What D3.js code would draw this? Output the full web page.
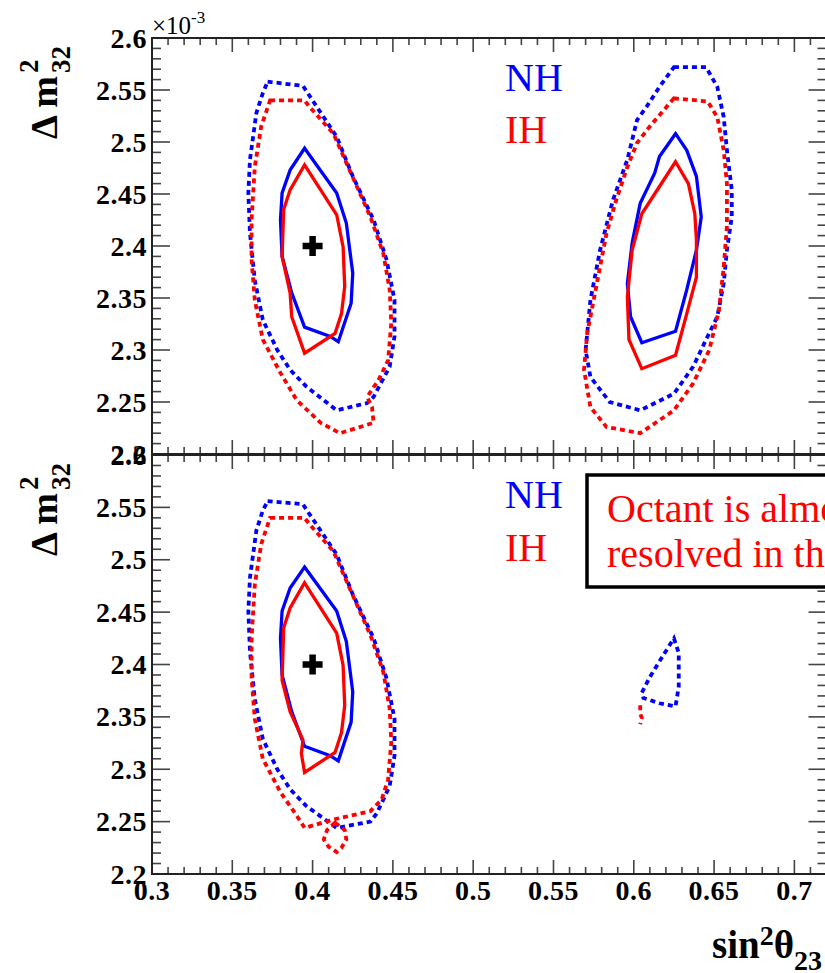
<!DOCTYPE html>
<html>
<head>
<meta charset="utf-8">
<script src="https://cdn.jsdelivr.net/npm/d3@7"></script>
<style>
  html, body { margin: 0; padding: 0; background: #fff; }
  svg { display: block; }
</style>
</head>
<body>
<svg id="chart" width="825" height="973"></svg>
<script>
// Axis ticks (sin^2 theta_23 and Delta m^2_32 in units of 1e-3 eV^2)
const sinTicks = [0.3, 0.35, 0.4, 0.45, 0.5, 0.55, 0.6, 0.65, 0.7];
const dmTicks = [2.2, 2.25, 2.3, 2.35, 2.4, 2.45, 2.5, 2.55, 2.6];
const bestFit = [0.4, 2.4];
const legendLabels = ["NH", "IH"];
const noteLines = ["Octant is almost", "resolved in this case"];

// Upper panel: contours for both octants
const topNH90 = [[0.372,2.558],[0.394,2.554],[0.397,2.547],[0.415,2.505],[0.425,2.467],[0.438,2.425],[0.446,2.387],[0.451,2.348],[0.451,2.313],[0.448,2.284],[0.438,2.255],[0.434,2.249],[0.415,2.242],[0.396,2.265],[0.386,2.281],[0.378,2.300],[0.369,2.329],[0.364,2.367],[0.361,2.4125],[0.360,2.451],[0.361,2.483],[0.365,2.528],[0.369,2.547]];
const topIH90 = [[0.3735,2.540],[0.395,2.540],[0.398,2.534],[0.413,2.508],[0.423,2.473],[0.436,2.428],[0.444,2.393],[0.448,2.358],[0.449,2.326],[0.447,2.290],[0.441,2.271],[0.434,2.255],[0.437,2.245],[0.438,2.230],[0.417,2.220],[0.405,2.230],[0.390,2.252],[0.380,2.278],[0.369,2.310],[0.364,2.348],[0.362,2.387],[0.362,2.425],[0.364,2.476],[0.368,2.515]];
const topNH68 = [[0.395,2.494],[0.415,2.451],[0.421,2.422],[0.425,2.374],[0.424,2.345],[0.416,2.308],[0.411,2.313],[0.395,2.322],[0.387,2.355],[0.381,2.390],[0.380,2.425],[0.381,2.451],[0.386,2.473]];
const topIH68 = [[0.395,2.478],[0.415,2.430],[0.419,2.399],[0.420,2.361],[0.418,2.335],[0.414,2.316],[0.395,2.297],[0.387,2.332],[0.386,2.355],[0.381,2.390],[0.382,2.435],[0.386,2.454]];
const topNH90b = [[0.625,2.572],[0.645,2.572],[0.652,2.553],[0.656,2.524],[0.658,2.492],[0.661,2.454],[0.661,2.428],[0.658,2.396],[0.656,2.364],[0.652,2.332],[0.645,2.310],[0.637,2.284],[0.625,2.258],[0.604,2.242],[0.585,2.250],[0.573,2.274],[0.570,2.300],[0.573,2.348],[0.579,2.396],[0.587,2.444],[0.596,2.483],[0.602,2.521],[0.608,2.534],[0.616,2.553]];
const topIH90b = [[0.625,2.542],[0.646,2.539],[0.652,2.524],[0.656,2.492],[0.658,2.460],[0.658,2.419],[0.656,2.380],[0.653,2.338],[0.647,2.300],[0.637,2.268],[0.625,2.242],[0.604,2.220],[0.583,2.226],[0.573,2.245],[0.569,2.281],[0.571,2.316],[0.577,2.364],[0.583,2.412],[0.589,2.444],[0.596,2.476],[0.602,2.499],[0.610,2.515]];
const topNH68b = [[0.626,2.508],[0.633,2.492],[0.639,2.467],[0.642,2.428],[0.639,2.396],[0.633,2.358],[0.626,2.318],[0.605,2.307],[0.598,2.332],[0.596,2.364],[0.599,2.403],[0.604,2.441],[0.613,2.470],[0.616,2.486]];
const topIH68b = [[0.626,2.481],[0.634,2.460],[0.638,2.431],[0.639,2.406],[0.639,2.370],[0.633,2.335],[0.626,2.295],[0.605,2.282],[0.597,2.310],[0.596,2.351],[0.599,2.396],[0.605,2.431]];

// Lower panel: the wrong octant is nearly excluded
const botNH90 = [[0.372,2.556],[0.394,2.553],[0.397,2.546],[0.415,2.505],[0.425,2.467],[0.438,2.425],[0.446,2.387],[0.451,2.348],[0.451,2.313],[0.448,2.284],[0.440,2.258],[0.436,2.250],[0.415,2.244],[0.396,2.265],[0.386,2.281],[0.378,2.300],[0.369,2.329],[0.364,2.367],[0.361,2.4125],[0.360,2.451],[0.361,2.483],[0.365,2.528],[0.369,2.547]];
const botIH90 = [[0.3735,2.540],[0.395,2.540],[0.398,2.534],[0.413,2.508],[0.423,2.473],[0.436,2.428],[0.444,2.393],[0.448,2.358],[0.449,2.326],[0.447,2.290],[0.443,2.271],[0.436,2.260],[0.413,2.252],[0.395,2.244],[0.390,2.256],[0.380,2.278],[0.369,2.310],[0.364,2.348],[0.362,2.387],[0.362,2.425],[0.364,2.476],[0.368,2.515]];
const botIH90loop = [[0.414,2.249],[0.420,2.242],[0.421,2.233],[0.418,2.225],[0.415,2.221],[0.410,2.226],[0.407,2.233],[0.409,2.242]];
const botNH68 = [[0.395,2.493],[0.415,2.451],[0.421,2.422],[0.425,2.374],[0.424,2.345],[0.416,2.308],[0.411,2.313],[0.395,2.322],[0.387,2.355],[0.381,2.390],[0.380,2.425],[0.381,2.451],[0.386,2.473]];
const botIH68 = [[0.395,2.478],[0.415,2.430],[0.419,2.399],[0.420,2.361],[0.418,2.335],[0.414,2.316],[0.395,2.297],[0.393,2.315],[0.394,2.328],[0.386,2.355],[0.381,2.385],[0.382,2.435],[0.386,2.454]];
const botNH90b = [[0.625,2.425],[0.628,2.411],[0.628,2.379],[0.626,2.360],[0.616,2.363],[0.606,2.368],[0.605,2.373],[0.610,2.388],[0.618,2.408]];
const botIH90b = [[0.604,2.361],[0.604,2.353],[0.605,2.349],[0.604,2.343]];

const svg = d3.select("#chart");
const serif = "'Liberation Serif', 'Times New Roman', serif";
const BLUE = "#0000ff", RED = "#ff0000";

const x = d3.scaleLinear().domain([0.3, 0.72]).range([152, 826.5]);

const panels = [
  {
    y: d3.scaleLinear().domain([2.2, 2.6]).range([454, 38]),
    contours: [
      {d: topNH90, c: BLUE, dash: true}, {d: topIH90, c: RED, dash: true},
      {d: topNH68, c: BLUE}, {d: topIH68, c: RED},
      {d: topNH90b, c: BLUE, dash: true}, {d: topIH90b, c: RED, dash: true},
      {d: topNH68b, c: BLUE}, {d: topIH68b, c: RED}
    ],
    legendY: [91, 143],
    xLabels: false,
    exponent: true
  },
  {
    y: d3.scaleLinear().domain([2.2, 2.6]).range([874, 455]),
    contours: [
      {d: botNH90, c: BLUE, dash: true}, {d: botIH90, c: RED, dash: true},
      {d: botIH90loop, c: RED, dash: true},
      {d: botNH68, c: BLUE}, {d: botIH68, c: RED},
      {d: botNH90b, c: BLUE, dash: true}, {d: botIH90b, c: RED, dash: true, open: true}
    ],
    legendY: [508, 561],
    xLabels: true,
    exponent: false
  }
];

const minorX = d3.range(30, 73).map(v => v / 100);
const minorY = d3.range(220, 261).map(v => v / 100);
const isMajor = (v, step) => Math.abs(v / step - Math.round(v / step)) < 1e-6;

function drawPanel(p) {
  const y = p.y;
  const g = svg.append("g");
  const [x0, x1] = x.range();
  const [yb, yt] = y.range();

  // contours
  const closed = d3.line().x(d => x(d[0])).y(d => y(d[1])).curve(d3.curveLinearClosed);
  const open = d3.line().x(d => x(d[0])).y(d => y(d[1]));
  p.contours.forEach(c => {
    g.append("path")
      .attr("d", (c.open ? open : closed)(c.d))
      .attr("fill", "none")
      .attr("stroke", c.c)
      .attr("stroke-width", c.dash ? 3.8 : 3.3)
      .attr("stroke-linejoin", "miter")
      .attr("stroke-dasharray", c.dash ? "5,4" : null);
  });

  // best-fit marker
  const cx = x(bestFit[0]), cy = y(bestFit[1]);
  g.append("path")
    .attr("d", `M${cx - 10},${cy}H${cx + 10}M${cx},${cy - 10}V${cy + 10}`)
    .attr("stroke", "#000").attr("stroke-width", 6.5);

  // ticks
  const tk = g.append("g").attr("stroke", "#444").attr("stroke-width", 1.6);
  minorX.forEach(v => {
    const px = x(v);
    const L = isMajor(v, 0.05) ? 14 : 7;
    tk.append("line").attr("x1", px).attr("x2", px).attr("y1", yb).attr("y2", yb - L);
    tk.append("line").attr("x1", px).attr("x2", px).attr("y1", yt).attr("y2", yt + L);
  });
  minorY.forEach(v => {
    const py = y(v);
    const L = isMajor(v, 0.05) ? 18 : 9;
    tk.append("line").attr("x1", x0).attr("x2", x0 + L).attr("y1", py).attr("y2", py);
    tk.append("line").attr("x1", x1).attr("x2", x1 - L).attr("y1", py).attr("y2", py);
  });

  // frame
  g.append("rect")
    .attr("x", x0).attr("y", yt).attr("width", x1 - x0).attr("height", yb - yt)
    .attr("fill", "none").attr("stroke", "#222").attr("stroke-width", 2);

  // y tick labels
  g.selectAll(".ylab").data(dmTicks).join("text")
    .attr("x", x0 - 5).attr("y", d => y(d))
    .attr("text-anchor", "end").attr("dominant-baseline", "central")
    .attr("font-family", serif).attr("font-weight", "bold").attr("font-size", 28)
    .attr("letter-spacing", 0.5)
    .attr("fill", "#000")
    .text(d => d3.format("~g")(d));

  if (p.xLabels) {
    g.selectAll(".xlab").data(sinTicks).join("text")
      .attr("x", d => x(d)).attr("y", yb + 26)
      .attr("text-anchor", "middle")
      .attr("font-family", serif).attr("font-weight", "bold").attr("font-size", 28)
      .attr("letter-spacing", 0.5)
      .attr("fill", "#000")
      .text(d => d3.format("~g")(d));
  }

  // y axis title, rotated
  const t = g.append("g").attr("transform", `translate(57,${yt + 101}) rotate(-90)`)
    .attr("font-family", serif).attr("font-weight", "bold").attr("fill", "#000");
  t.append("text").attr("x", 0).attr("y", 0).attr("font-size", 38).text("Δ m");
  t.append("text").attr("x", 66).attr("y", -19).attr("font-size", 27).text("2");
  t.append("text").attr("x", 66).attr("y", 13).attr("font-size", 27).text("32");

  // legend
  g.append("text").attr("x", 505).attr("y", p.legendY[0])
    .attr("font-family", serif).attr("font-size", 40).attr("fill", BLUE).text(legendLabels[0]);
  g.append("text").attr("x", 505).attr("y", p.legendY[1])
    .attr("font-family", serif).attr("font-size", 40).attr("fill", RED).text(legendLabels[1]);

  if (p.exponent) {
    const e = g.append("text").attr("x", x0).attr("y", yt - 4)
      .attr("font-family", serif).attr("fill", "#000");
    e.append("tspan").attr("font-size", 25).text("×10");
    e.append("tspan").attr("font-size", 17).attr("dy", -11).text("-3");
  }
}

panels.forEach(drawPanel);

// annotation box in the lower panel
svg.append("rect")
  .attr("x", 587).attr("y", 475).attr("width", 320).attr("height", 112)
  .attr("fill", "#fff").attr("stroke", "#000").attr("stroke-width", 3.5);
svg.selectAll(".note").data(noteLines).join("text")
  .attr("x", 607).attr("y", (d, i) => 522 + i * 45)
  .attr("font-family", serif).attr("font-size", 40).attr("fill", RED)
  .text(d => d);

// x axis title
const xt = svg.append("text").attr("x", 712).attr("y", 958)
  .attr("font-family", serif).attr("font-weight", "bold").attr("fill", "#000");
xt.append("tspan").attr("font-size", 39).text("sin");
xt.append("tspan").attr("font-size", 28).attr("dy", -13).text("2");
xt.append("tspan").attr("font-size", 39).attr("dy", 13).text("θ");
xt.append("tspan").attr("font-size", 28).attr("dy", 12).text("23");
</script>
</body>
</html>
